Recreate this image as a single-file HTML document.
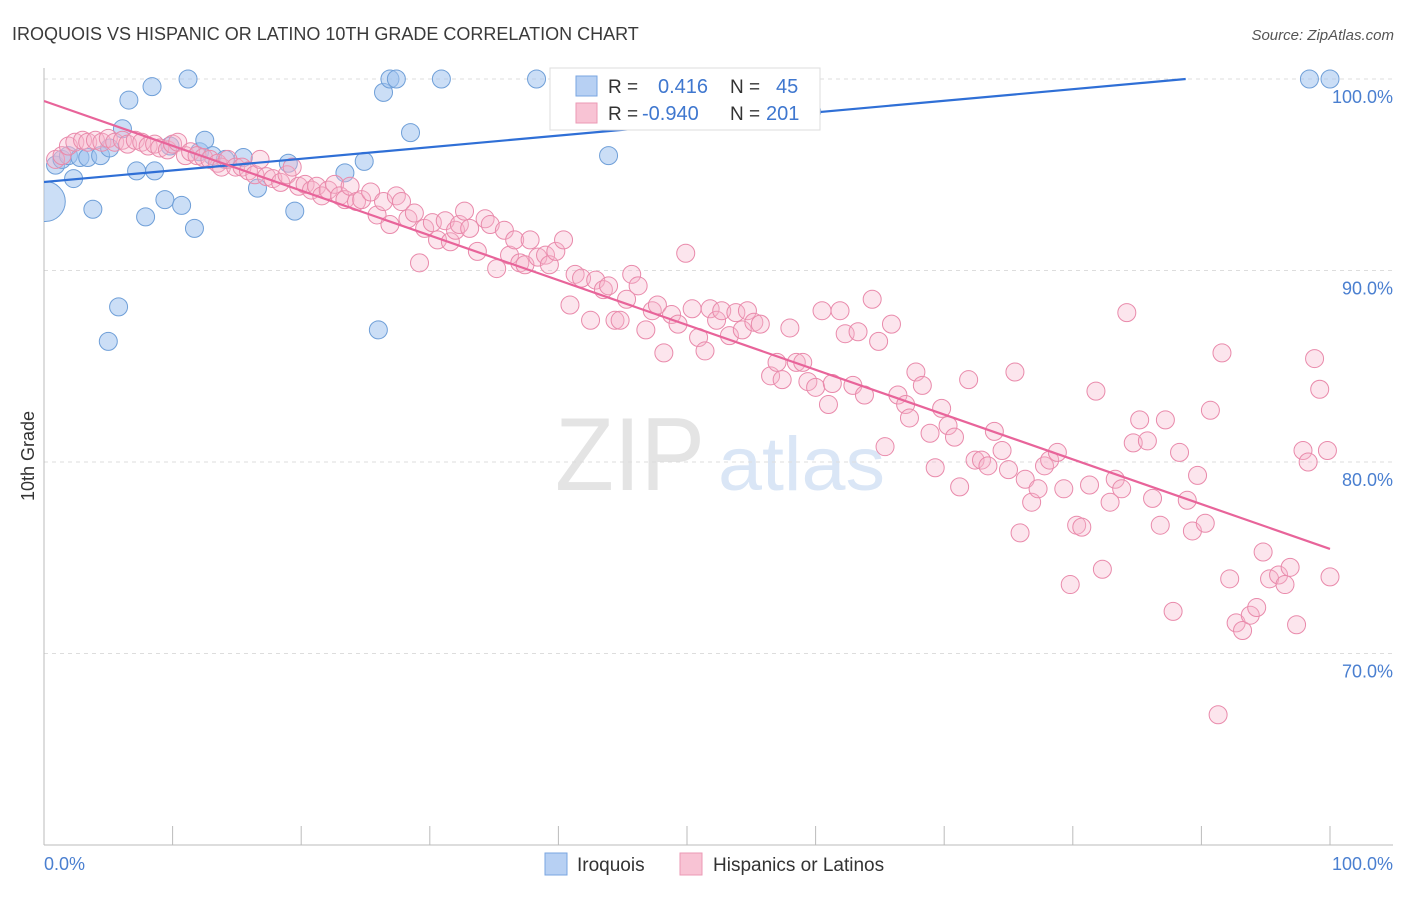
<!DOCTYPE html>
<html><head><meta charset="utf-8"><style>
body{margin:0;background:#fff;font-family:"Liberation Sans",sans-serif;}
svg text{font-family:"Liberation Sans",sans-serif;}
</style></head><body>
<svg id="chart" width="1406" height="892" xmlns="http://www.w3.org/2000/svg">
<defs><clipPath id="plotclip"><rect x="44" y="60" width="1360" height="785"/></clipPath></defs>
<text x="12" y="40" font-size="18" fill="#3a3a3a">IROQUOIS VS HISPANIC OR LATINO 10TH GRADE CORRELATION CHART</text>
<text x="1394" y="40" font-size="15" fill="#555" font-style="italic" text-anchor="end">Source: ZipAtlas.com</text>
<g>
<text x="555" y="490" font-size="104" fill="#e4e4e4" font-family="Liberation Serif" textLength="150" lengthAdjust="spacingAndGlyphs">ZIP</text>
<text x="718" y="490" font-size="76" fill="#dae6f6" textLength="167" lengthAdjust="spacingAndGlyphs">atlas</text>
</g>
<g id="grid"></g>
<g id="axes"></g>
<g id="pts" clip-path="url(#plotclip)"></g>
<g id="lines" clip-path="url(#plotclip)"></g>
<text transform="translate(34,456) rotate(-90)" font-size="18" fill="#333" text-anchor="middle">10th Grade</text>
<text x="44" y="870" font-size="18" fill="#4a7fd0">0.0%</text>
<text x="1393" y="870" font-size="18" fill="#4a7fd0" text-anchor="end">100.0%</text>
<g>
<rect x="550" y="68" width="270" height="62" fill="#fff" stroke="#ddd"/>
<rect x="576" y="76" width="21" height="20" fill="#b7d0f3" stroke="#7aa6e0"/>
<rect x="576" y="103" width="21" height="20" fill="#f8c3d4" stroke="#eb9ab5"/>
<text x="608" y="93" font-size="19" fill="#333">R = </text><text x="658" y="93" font-size="20" fill="#3f77cf">0.416</text>
<text x="730" y="93" font-size="19" fill="#333">N = </text><text x="776" y="93" font-size="20" fill="#3f77cf">45</text>
<text x="608" y="120" font-size="19" fill="#333">R = </text><text x="642" y="120" font-size="20" fill="#3f77cf">-0.940</text>
<text x="730" y="120" font-size="19" fill="#333">N = </text><text x="766" y="120" font-size="20" fill="#3f77cf">201</text>
</g>
<g>
<rect x="545" y="853" width="22" height="22" fill="#b7d0f3" stroke="#7aa6e0"/>
<text x="577" y="871" font-size="19" fill="#333">Iroquois</text>
<rect x="680" y="853" width="22" height="22" fill="#f8c3d4" stroke="#eb9ab5"/>
<text x="713" y="871" font-size="19" fill="#333">Hispanics or Latinos</text>
</g>
</svg>
<script>
const yTicks=[100,90,80,70];
const yTickLabels=["100.0%","90.0%","80.0%","70.0%"];
const xTicks=[0,10,20,30,40,50,60,70,80,90,100];
const blueX=[0.1,0.9,1.4,1.9,2.3,2.8,3.4,3.8,4.4,5.1,5.8,5.0,6.1,6.6,7.2,7.9,8.4,8.6,9.4,9.8,10.7,11.2,11.7,12.1,12.5,13.1,14.1,15.5,16.6,19.0,19.5,23.4,24.9,26.0,26.4,26.9,27.4,28.5,30.9,38.3,43.9,54.0,59.7,98.4,100];
const blueY=[93.6,95.5,95.8,96.0,94.8,95.9,95.9,93.2,96.0,96.4,88.1,86.3,97.4,98.9,95.2,92.8,99.6,95.2,93.7,96.5,93.4,100,92.2,96.2,96.8,96.0,95.8,95.9,94.3,95.6,93.1,95.1,95.7,86.9,99.3,100,100,97.2,100,100,96.0,98.0,98.3,100,100];
const pinkX=[0.9,1.4,1.9,2.4,3.0,3.4,4.0,4.5,5.0,5.5,6.1,6.5,7.1,7.6,8.1,8.6,9.0,9.6,10.0,10.4,11.0,11.4,11.9,12.4,12.9,13.5,13.8,14.3,14.9,15.4,15.9,16.4,16.8,17.3,17.8,18.4,18.9,19.3,19.8,20.3,20.8,21.2,21.6,22.1,22.6,23.0,23.4,23.8,24.3,24.7,25.4,25.9,26.4,26.9,27.4,27.8,28.3,28.8,29.2,29.6,30.2,30.6,31.2,31.6,32.0,32.3,32.7,33.1,33.7,34.3,34.7,35.2,35.8,36.2,36.6,37.0,37.4,37.8,38.4,39.0,39.3,39.8,40.4,40.9,41.3,41.8,42.5,42.9,43.5,43.9,44.4,44.8,45.3,45.7,46.2,46.8,47.3,47.7,48.2,48.8,49.3,49.9,50.4,50.9,51.4,51.8,52.3,52.7,53.3,53.8,54.3,54.7,55.2,55.7,56.5,57.0,57.4,58.0,58.5,59.0,59.4,60.0,60.5,61.0,61.3,61.9,62.3,62.9,63.3,63.8,64.4,64.9,65.4,65.9,66.4,67.0,67.3,67.8,68.3,68.9,69.3,69.8,70.3,70.8,71.2,71.9,72.4,72.9,73.4,73.9,74.5,75.0,75.5,75.9,76.3,76.8,77.3,77.8,78.2,78.8,79.3,79.8,80.3,80.7,81.3,81.8,82.3,82.9,83.3,83.8,84.2,84.7,85.2,85.8,86.2,86.8,87.2,87.8,88.3,88.9,89.3,89.7,90.3,90.7,91.3,91.6,92.2,92.7,93.2,93.8,94.3,94.8,95.3,96.0,96.5,96.9,97.4,97.9,98.3,98.8,99.2,99.8,100];
const pinkY=[95.8,96.0,96.5,96.7,96.8,96.7,96.8,96.7,96.9,96.7,96.8,96.6,96.8,96.7,96.5,96.6,96.4,96.3,96.6,96.7,96.0,96.2,96.0,95.9,95.8,95.6,95.4,95.8,95.4,95.4,95.2,95.0,95.8,94.9,94.8,94.6,95.0,95.4,94.4,94.5,94.2,94.4,93.9,94.2,94.5,93.9,93.7,94.4,93.6,93.7,94.1,92.9,93.6,92.4,93.9,93.6,92.7,93.0,90.4,92.2,92.5,91.6,92.6,91.5,92.1,92.4,93.1,92.2,91.0,92.7,92.4,90.1,92.1,90.8,91.6,90.4,90.3,91.6,90.7,90.8,90.3,91.0,91.6,88.2,89.8,89.6,87.4,89.5,89.0,89.2,87.4,87.4,88.5,89.8,89.2,86.9,87.9,88.2,85.7,87.7,87.2,90.9,88.0,86.5,85.8,88.0,87.4,87.9,86.6,87.8,86.9,87.9,87.3,87.2,84.5,85.2,84.3,87.0,85.2,85.2,84.2,83.9,87.9,83.0,84.1,87.9,86.7,84.0,86.8,83.5,88.5,86.3,80.8,87.2,83.5,83.0,82.3,84.7,84.0,81.5,79.7,82.8,81.9,81.3,78.7,84.3,80.1,80.1,79.8,81.6,80.6,79.6,84.7,76.3,79.1,77.9,78.6,79.8,80.1,80.5,78.6,73.6,76.7,76.6,78.8,83.7,74.4,77.9,79.1,78.6,87.8,81.0,82.2,81.1,78.1,76.7,82.2,72.2,80.5,78.0,76.4,79.3,76.8,82.7,66.8,85.7,73.9,71.6,71.2,72.0,72.4,75.3,73.9,74.1,73.6,74.5,71.5,80.6,80.0,85.4,83.8,80.6,74.0];
const blueTrend=[94.62,100.68];
const pinkTrend=[98.85,75.46];
const bigBlue=[0];
const NS="http://www.w3.org/2000/svg";
const X0=44,X1=1330,YT=79,PX=19.15;
function sx(v){return X0+(X1-X0)*v/100;}
function sy(v){return YT+(100-v)*PX;}
function mk(tag,attrs,parent){const e=document.createElementNS(NS,tag);for(const k in attrs)e.setAttribute(k,attrs[k]);document.getElementById(parent).appendChild(e);return e;}
yTicks.forEach((t,i)=>{
 const l=mk('line',{x1:44,x2:1393,y1:sy(t),y2:sy(t),stroke:'#ddd','stroke-dasharray':'4,4'},'grid');
 
 
 const tx=mk('text',{x:1393,y:sy(t)+24,'font-size':18,fill:'#4a7fd0','text-anchor':'end'},'grid');
 tx.textContent=yTickLabels[i];
 
 
});
const ax=mk('line',{x1:44,x2:1393,y1:845,y2:845,stroke:'#bbb'},'axes');


const ay=mk('line',{x1:44,x2:44,y1:68,y2:845,stroke:'#bbb'},'axes');


xTicks.forEach(t=>{const l=mk('line',{x1:sx(t),x2:sx(t),y1:826,y2:845,stroke:'#bbb'},'axes');
 
 });
blueX.forEach((v,i)=>{const c=mk('circle',{cx:sx(v),cy:sy(blueY[i]),r:bigBlue.includes(i)?20:9,fill:'rgba(160,194,238,0.55)',stroke:'#6f9fd8','stroke-width':1},'pts');
 
 });
pinkX.forEach((v,i)=>{const c=mk('circle',{cx:sx(v),cy:sy(pinkY[i]),r:9,fill:'rgba(245,180,202,0.35)',stroke:'#e98aab','stroke-width':1},'pts');
 
 });
let bx1=100,by1=blueTrend[1];
if(by1>100){bx1=(100-blueTrend[0])/(blueTrend[1]-blueTrend[0])*100;by1=100;}
const bl=mk('line',{x1:sx(0),y1:sy(blueTrend[0]),x2:sx(bx1),y2:sy(by1),stroke:'#2f6fd6','stroke-width':2.2},'lines');


const pl=mk('line',{x1:sx(0),y1:sy(pinkTrend[0]),x2:sx(100),y2:sy(pinkTrend[1]),stroke:'#e8649a','stroke-width':2.2},'lines');


</script>
</body></html>
